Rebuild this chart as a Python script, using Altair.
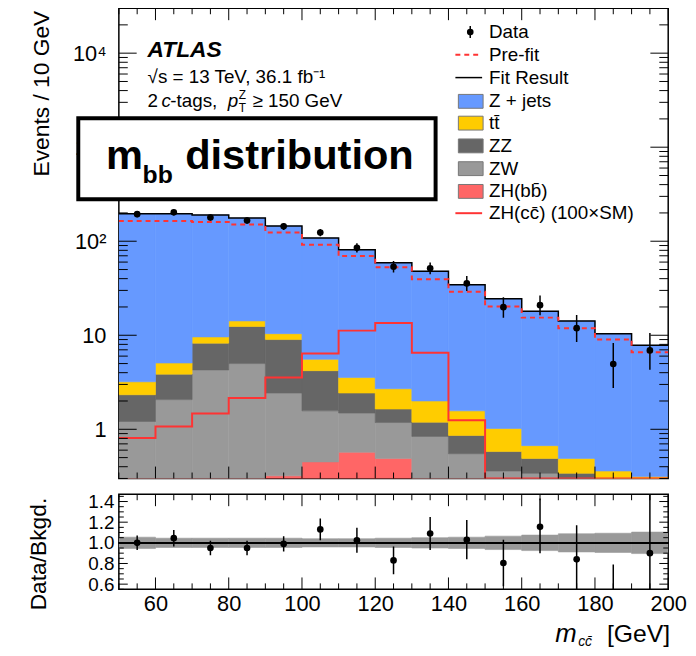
import altair as alt
import pandas as pd
import numpy as np

FONT = "Liberation Sans"

# ---------------- data ----------------
bin_lo = [50, 60, 70, 80, 90, 100, 110, 120, 130, 140, 150, 160, 170, 180, 190]
bin_w = 10

# stacked backgrounds (bottom -> top)
zhbb  = [0.02, 0.05, 0.10, 0.20, 0.32, 0.45, 0.57, 0.49, 0.25, 0.10, 0.04, 0.02, 0.01, 0.01, 0.005]
zw    = [1.19, 2.02, 4.18, 4.80, 2.11, 1.12, 0.92, 0.69, 0.59, 0.45, 0.32, 0.32, 0.20, 0.10, 0.08]
zz    = [1.12, 1.79, 3.96, 7.40, 6.57, 2.63, 0.94, 0.46, 0.35, 0.31, 0.22, 0.15, 0.13, 0.08, 0.05]
ttbar = [0.87, 1.21, 1.36, 1.80, 1.40, 1.35, 1.12, 1.06, 0.81, 0.71, 0.44, 0.18, 0.15, 0.17, 0.18]
zjets = [192.8, 191.0, 181.0, 162.0, 134.6, 102.5, 77.5, 56.3, 46.0, 32.8, 23.5, 17.3, 13.7, 10.0, 7.5]

prefit = [164, 164, 160, 151, 124, 92, 69.5, 53, 39.5, 29, 20.2, 15.4, 11.9, 9.0, 6.6]
zhcc   = [0.81, 1.07, 1.47, 2.15, 3.55, 6.4, 11.2, 13.5, 6.5, 1.25, 0, 0, 0, 0, 0]

data    = [194, 203, 179, 166, 144, 124, 85, 53.5, 51.5, 35.6, 19.9, 20.9, 11.9, 4.95, 6.9]
data_dn = [14, 14, 13, 13, 12, 11, 9, 7, 7, 6, 4.5, 4.6, 3.4, 2.2, 2.6]
data_up = [14, 14, 13, 13, 12, 11, 10, 8, 8, 7, 5.5, 5.6, 4.5, 3.3, 3.7]

ratio    = [1.00, 1.045, 0.95, 0.95, 0.99, 1.13, 1.025, 0.83, 1.09, 1.03, 0.805, 1.155, 0.84, 0.48, 0.90]
ratio_lo = [0.93, 0.965, 0.88, 0.88, 0.915, 1.025, 0.905, 0.695, 0.93, 0.84, 0.58, 0.90, 0.54, 0.26, 0.45]
ratio_hi = [1.07, 1.125, 1.02, 1.02, 1.065, 1.235, 1.145, 0.965, 1.25, 1.22, 1.03, 1.43, 1.17, 0.79, 1.50]
band_hw  = [0.055, 0.045, 0.045, 0.045, 0.045, 0.04, 0.04, 0.045, 0.05, 0.055, 0.065, 0.075, 0.088, 0.093, 0.104]

x_labels = [60, 80, 100, 120, 140, 160, 180, 200]
y_labels = [1, 10, 100, 1000, 10000]
r_labels = [0.6, 0.8, 1.0, 1.2, 1.4]

# colours
C_ZJ, C_TT, C_ZZ, C_ZW, C_ZHBB, C_RED = "#6699ff", "#ffcc00", "#666666", "#999999", "#ff6666", "#ff3333"

# ---------------- tables ----------------
W, H, RH = 555, 475, 96
df = pd.DataFrame({"lo": bin_lo, "hi": [b + bin_w for b in bin_lo]})
cum = np.zeros(len(bin_lo))
comps = [("zhbb", zhbb, C_ZHBB), ("zw", zw, C_ZW), ("zz", zz, C_ZZ), ("tt", ttbar, C_TT), ("zj", zjets, C_ZJ)]
for name, vals, _ in comps:
    df[name + "_bot"] = np.maximum(cum, 1e-3)
    cum = cum + np.array(vals)
    df[name + "_top"] = cum
df["center"] = df["lo"] + bin_w / 2
df["data"] = data
df["d_lo"] = np.array(data) - np.array(data_dn)
df["d_hi"] = np.array(data) + np.array(data_up)
df["ratio"] = ratio
df["r_lo"] = ratio_lo
df["r_hi"] = ratio_hi
df["b_lo"] = 1 - np.array(band_hw)
df["b_hi"] = 1 + np.array(band_hw)
df["one"] = 1.0

edges = bin_lo + [bin_lo[-1] + bin_w]
zhcc_pos = [v if v > 0 else 1e-3 for v in zhcc]
step = pd.DataFrame({
    "x": edges,
    "total": list(cum) + [cum[-1]],
    "prefit": prefit + [prefit[-1]],
    "zhcc": zhcc_pos + [zhcc_pos[-1]],
})

xs = alt.Scale(domain=[50, 200], nice=False, zero=False)
ys = alt.Scale(type="log", domain=[0.3, 30000], nice=False, clamp=True)
rs = alt.Scale(domain=[0.55, 1.47], nice=False, zero=False)

label_expr = ("datum.value == 1 ? '1' : datum.value == 10 ? '10' : datum.value == 100 ? '10\u00b2' : "
              "datum.value == 1000 ? '10\u00b3' : '10\u2074'")
yaxis = alt.Axis(values=y_labels, labelExpr=label_expr, labelFontSize=22, labelPadding=13,
                 ticks=False, domain=False, grid=False, title="Events / 10 GeV", titleFontSize=23,
                 titleFontWeight="normal", titleAngle=270, titleX=-78, titleY=2,
                 titleAlign="right", titleBaseline="middle")
raxis = alt.Axis(values=r_labels, format=".1f", labelFontSize=19, labelPadding=5, labelOverlap=False,
                 ticks=False, domain=False, grid=False, title="Data/Bkgd.", titleFontSize=23,
                 titleFontWeight="normal", titleAngle=270, titleX=-81, titleY=3,
                 titleAlign="right", titleBaseline="middle")
xaxis_r = alt.Axis(values=x_labels, labelFontSize=22, labelPadding=4, ticks=False, domain=False,
                   grid=False, title=None, labelFlush=False)

one = pd.DataFrame({"k": [0]})


def txt(s, x, y, size, weight="normal", style="normal", align="left", baseline="alphabetic", color="black"):
    return alt.Chart(one).mark_text(text=s, fontSize=size, fontWeight=weight, fontStyle=style, align=align,
                                    baseline=baseline, color=color, font=FONT).encode(
        x=alt.value(x), y=alt.value(y))


def vticks(vals, length, scale, axis, width, side):
    d = pd.DataFrame({"v": vals})
    x0, x1 = (0, length) if side == "left" else (width, width - length)
    return alt.Chart(d).mark_rule(color="black", strokeWidth=1).encode(
        y=alt.Y("v:Q", scale=scale, axis=axis), x=alt.value(x0), x2=alt.value(x1))


def hticks(vals, length, height, axis, side):
    d = pd.DataFrame({"v": vals})
    y0, y1 = (0, length) if side == "top" else (height, height - length)
    return alt.Chart(d).mark_rule(color="black", strokeWidth=1).encode(
        x=alt.X("v:Q", scale=xs, axis=axis), y=alt.value(y0), y2=alt.value(y1))


# ---------------- main panel ----------------
layers = []
for name, vals, col in comps:
    layers.append(alt.Chart(df).mark_rect(color=col, stroke=col, strokeWidth=0.6, clip=True).encode(
        x=alt.X("lo:Q", scale=xs, axis=None), x2="hi:Q",
        y=alt.Y(name + "_top:Q", scale=ys, axis=yaxis), y2=name + "_bot:Q"))

layers.append(alt.Chart(step).mark_line(interpolate="step-after", color="black", strokeWidth=1.5, clip=True).encode(
    x=alt.X("x:Q", scale=xs, axis=None), y=alt.Y("total:Q", scale=ys, axis=yaxis)))
layers.append(alt.Chart(step).mark_line(interpolate="step-after", color=C_RED, strokeWidth=2,
                                        strokeDash=[5, 4], clip=True).encode(
    x=alt.X("x:Q", scale=xs, axis=None), y=alt.Y("prefit:Q", scale=ys, axis=yaxis)))
layers.append(alt.Chart(step).mark_line(interpolate="step-after", color=C_RED, strokeWidth=2, clip=True).encode(
    x=alt.X("x:Q", scale=xs, axis=None), y=alt.Y("zhcc:Q", scale=ys, axis=yaxis)))
layers.append(alt.Chart(df).mark_rule(color="black", strokeWidth=1.5, clip=True).encode(
    x=alt.X("center:Q", scale=xs, axis=None), y=alt.Y("d_lo:Q", scale=ys, axis=yaxis), y2="d_hi:Q"))
layers.append(alt.Chart(df).mark_point(filled=True, size=45, color="black", opacity=1, clip=True).encode(
    x=alt.X("center:Q", scale=xs, axis=None), y=alt.Y("data:Q", scale=ys, axis=yaxis)))

# ticks (inside, all four sides)
y_major = y_labels
y_minor = [k * 10.0 ** e for e in range(-1, 5) for k in range(2, 10) if 0.3 <= k * 10.0 ** e <= 30000]
x_major = x_labels
x_minor = [v for v in range(50, 201, 5) if v not in x_major]
for side in ("left", "right"):
    layers.append(vticks(y_major, 18, ys, yaxis, W, side))
    layers.append(vticks(y_minor, 9, ys, yaxis, W, side))
for side in ("top", "bottom"):
    layers.append(hticks(x_major, 12, H, None, side))
    layers.append(hticks(x_minor, 6, H, None, side))

# ATLAS label
layers += [
    txt("ATLAS", 29, 49, 23, weight="bold", style="italic"),
    txt("\u221as = 13 TeV, 36.1 fb\u207b\u00b9", 29, 75, 19),
    txt("2", 29, 100, 19),
    txt("c", 43, 100, 19, style="italic"),
    txt("-tags,", 52, 100, 19),
    txt("p", 110, 100, 19, style="italic"),
    txt("Z", 121, 92, 12),
    txt("T", 121, 105, 12),
    txt("\u2265 150 GeV", 135, 100, 19),
]

# legend
LX0, LX1, LT = 343, 368, 374
rows = [24, 47, 70, 94, 116, 139, 162, 185, 207]
names = ["Data", "Pre-fit", "Fit Result", "Z + jets", "tt\u0304", "ZZ", "ZW", "ZH(bb\u0304)", "ZH(cc\u0304) (100\u00d7SM)"]
for yv, nm in zip(rows, names):
    layers.append(txt(nm, LT, yv, 19, baseline="middle"))
layers.append(alt.Chart(one).mark_rule(color="black", strokeWidth=1.5).encode(
    x=alt.value(355), y=alt.value(rows[0] - 6), y2=alt.value(rows[0] + 6)))
layers.append(alt.Chart(one).mark_point(filled=True, size=45, color="black", opacity=1).encode(
    x=alt.value(355), y=alt.value(rows[0])))
layers.append(alt.Chart(one).mark_rule(color=C_RED, strokeWidth=2, strokeDash=[5, 4]).encode(
    x=alt.value(340), x2=alt.value(367), y=alt.value(rows[1])))
layers.append(alt.Chart(one).mark_rule(color="black", strokeWidth=1.5).encode(
    x=alt.value(340), x2=alt.value(367), y=alt.value(rows[2])))
for yv, col in zip(rows[3:8], [C_ZJ, C_TT, C_ZZ, C_ZW, C_ZHBB]):
    layers.append(alt.Chart(one).mark_rect(color=col, stroke="#777777", strokeWidth=1).encode(
        x=alt.value(LX0), x2=alt.value(LX1), y=alt.value(yv - 7), y2=alt.value(yv + 7)))
layers.append(alt.Chart(one).mark_rule(color=C_RED, strokeWidth=2).encode(
    x=alt.value(340), x2=alt.value(367), y=alt.value(rows[8])))

# the white annotation box
layers.append(alt.Chart(one).mark_rect(fill="white", stroke="black", strokeWidth=4).encode(
    x=alt.value(-41), x2=alt.value(320), y=alt.value(111), y2=alt.value(193)))
layers += [
    txt("m", -13, 162, 42, weight="bold"),
    txt("bb", 24, 176, 25, weight="bold"),
    txt("distribution", 67, 162, 42, weight="bold"),
]

main = alt.layer(*layers).properties(width=W, height=H)

# ---------------- ratio panel ----------------
rl = []
rl.append(alt.Chart(df).mark_rect(color="#999999", stroke="#999999", strokeWidth=0.6, clip=True).encode(
    x=alt.X("lo:Q", scale=xs, axis=xaxis_r), x2="hi:Q",
    y=alt.Y("b_lo:Q", scale=rs, axis=raxis), y2="b_hi:Q"))
rl.append(alt.Chart(df).mark_rule(color="black", strokeWidth=1.2).encode(
    y=alt.Y("one:Q", scale=rs, axis=raxis), x=alt.value(0), x2=alt.value(W)))
rl.append(alt.Chart(df).mark_rule(color="black", strokeWidth=1.5, clip=True).encode(
    x=alt.X("center:Q", scale=xs, axis=xaxis_r), y=alt.Y("r_lo:Q", scale=rs, axis=raxis), y2="r_hi:Q"))
rl.append(alt.Chart(df).mark_point(filled=True, size=45, color="black", opacity=1, clip=True).encode(
    x=alt.X("center:Q", scale=xs, axis=xaxis_r), y=alt.Y("ratio:Q", scale=rs, axis=raxis)))
r_major = r_labels
r_minor = [round(0.55 + 0.05 * i, 3) for i in range(19)]
r_minor = [v for v in r_minor if all(abs(v - m) > 1e-6 for m in r_major) and v <= 1.47]
for side in ("left", "right"):
    rl.append(vticks(r_major, 9, rs, raxis, W, side))
    rl.append(vticks(r_minor, 5, rs, raxis, W, side))
for side in ("top", "bottom"):
    rl.append(hticks(x_major, 12, RH, xaxis_r, side))
    rl.append(hticks(x_minor, 6, RH, xaxis_r, side))
rl += [
    txt("m", 441, 149, 26, style="italic"),
    txt("cc\u0304", 464, 153, 14, style="italic"),
    txt("[GeV]", 557, 149, 25, align="right"),
]
ratio_chart = alt.layer(*rl).properties(width=W, height=RH)

chart = alt.vconcat(main, ratio_chart, spacing=11).configure(
    font=FONT, padding={"left": 19, "top": -5, "right": 0, "bottom": -3}
).configure_view(stroke="black", strokeWidth=1.5).configure_axis(
    labelFont=FONT, titleFont=FONT, labelColor="black", titleColor="black")

chart.save("out.html", embed_options={"renderer": "svg", "actions": False})
